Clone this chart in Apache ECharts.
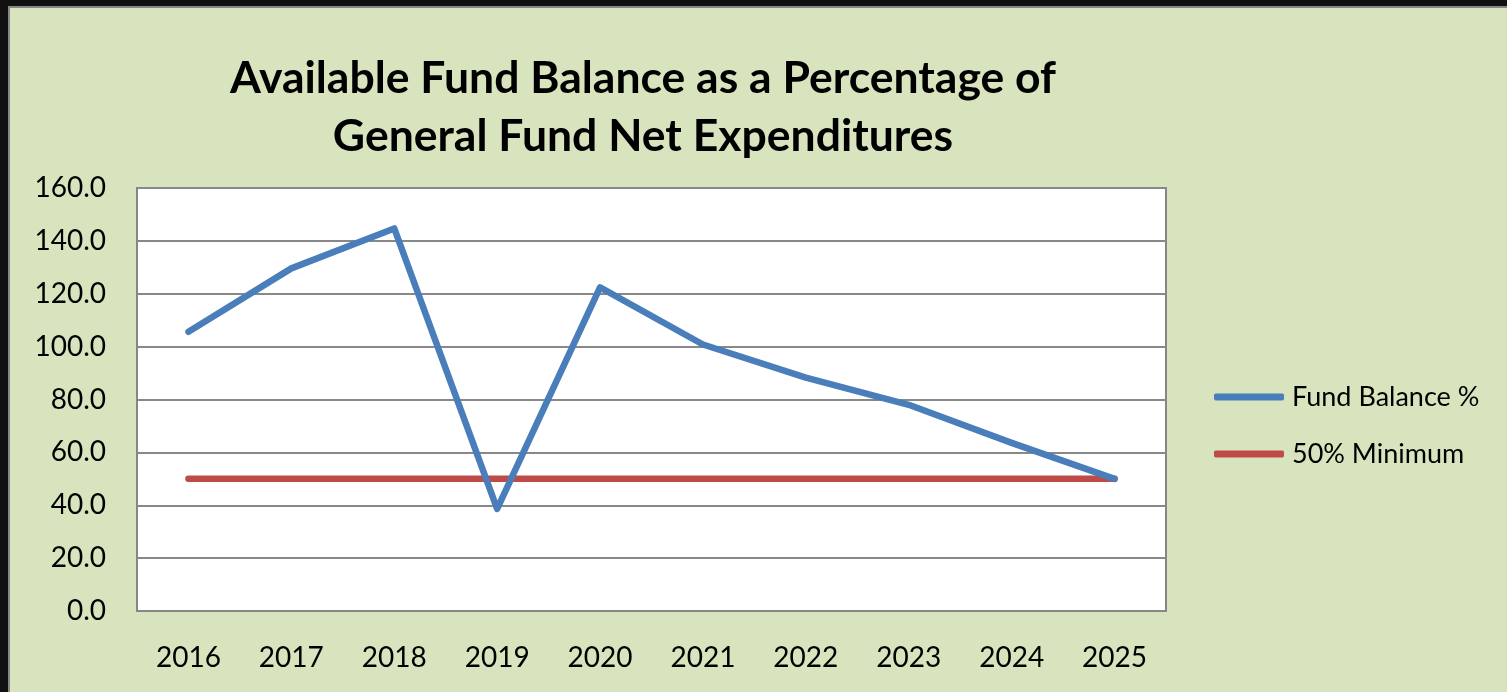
<!DOCTYPE html>
<html>
<head>
<meta charset="utf-8">
<script src="https://cdn.jsdelivr.net/npm/echarts@6/dist/echarts.min.js"></script>
<style>
  html, body { margin: 0; padding: 0; background: #111111; width: 1507px; height: 692px; overflow: hidden; }
  #frame { position: absolute; left: 8px; top: 6px; width: 1499px; height: 686px; background: #888888; }
  #chart { position: absolute; left: 10px; top: 8px; width: 1497px; height: 684px; }
</style>
</head>
<body>
<div id="frame"></div>
<div id="chart"></div>
<script>
const categories = ['2016', '2017', '2018', '2019', '2020', '2021', '2022', '2023', '2024', '2025'];
const fundBalance = [105.6, 129.6, 144.7, 38.6, 122.4, 100.8, 88.3, 78.0, 63.6, 50.0];
const minimum = [50, 50, 50, 50, 50, 50, 50, 50, 50, 50];
const seriesNames = ['Fund Balance %', '50% Minimum'];
const titleText = 'Available Fund Balance as a Percentage of\nGeneral Fund Net Expenditures';

const font = 'Lato, "Open Sans", sans-serif';
const chart = echarts.init(document.getElementById('chart'), null, { renderer: 'canvas' });
chart.setOption({
  backgroundColor: '#D8E4BD',
  animation: false,
  title: {
    text: titleText,
    left: 633,
    top: 42,
    padding: 0,
    textAlign: 'center',
    textStyle: { fontFamily: font, fontWeight: 'bold', fontSize: 44.5, lineHeight: 58, color: '#000' }
  },
  legend: {
    orient: 'vertical',
    left: 1204,
    top: 374,
    padding: 0,
    itemWidth: 70,
    itemHeight: 7,
    itemGap: 27,
    icon: 'roundRect',
    textStyle: { fontFamily: font, fontSize: 27, lineHeight: 30, color: '#000', padding: [0, 0, 0, 3] },
    data: seriesNames
  },
  grid: {
    left: 127, top: 180, width: 1029, height: 423,
    show: true, backgroundColor: '#FFFFFF', borderColor: '#868686', borderWidth: 2,
    containLabel: false
  },
  xAxis: {
    type: 'category',
    data: categories,
    boundaryGap: true,
    axisLine: { show: true, lineStyle: { color: '#868686', width: 2 } },
    axisTick: { show: false },
    axisLabel: { fontFamily: font, fontSize: 28, color: '#000', margin: 33 },
    splitLine: { show: false }
  },
  yAxis: {
    type: 'value',
    min: 0, max: 160, interval: 20,
    axisLine: { show: true, lineStyle: { color: '#868686', width: 2 } },
    axisTick: { show: false },
    axisLabel: { fontFamily: font, fontSize: 28, color: '#000', margin: 31, formatter: v => v.toFixed(1) },
    splitLine: { show: true, lineStyle: { color: '#888888', width: 2 } }
  },
  series: [
    {
      name: seriesNames[0], type: 'line', data: fundBalance,
      symbol: 'none', showSymbol: false,
      lineStyle: { color: '#4A7EBB', width: 6.5, cap: 'round', join: 'round' },
      itemStyle: { color: '#4A7EBB' }, z: 3
    },
    {
      name: seriesNames[1], type: 'line', data: minimum,
      symbol: 'none', showSymbol: false,
      lineStyle: { color: '#BE4B48', width: 6.5, cap: 'round', join: 'round' },
      itemStyle: { color: '#BE4B48' }, z: 2
    }
  ]
});
</script>
</body>
</html>
